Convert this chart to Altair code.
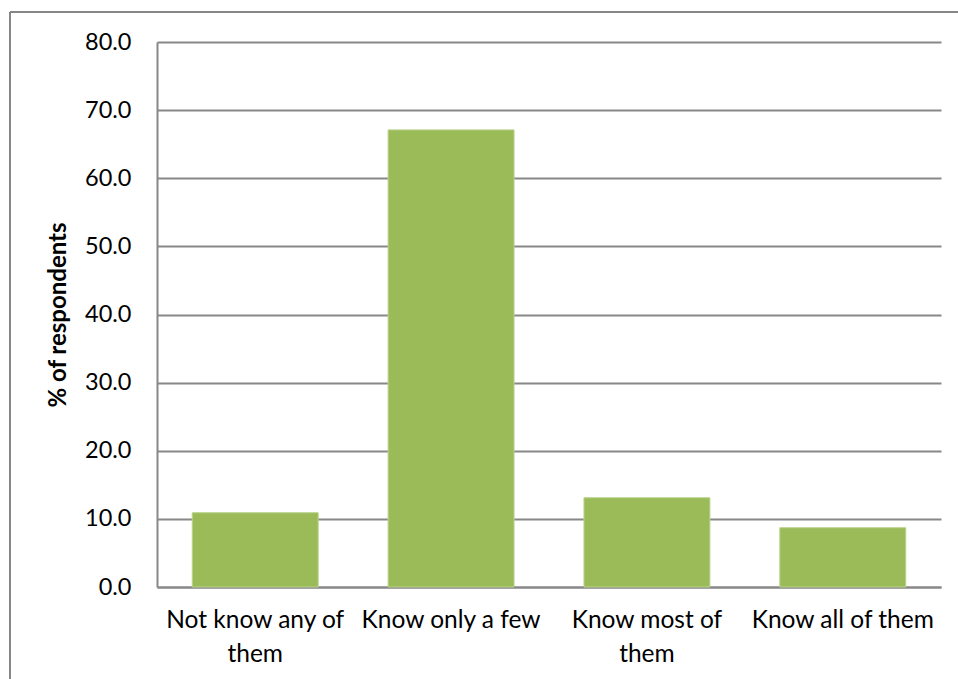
import altair as alt
import pandas as pd

# Survey answers and share of respondents (%)
categories = [
    "Not know any of\nthem",
    "Know only a few",
    "Know most of\nthem",
    "Know all of them",
]
percent = [10.9, 67.1, 13.1, 8.7]
y_ticks = [0, 10, 20, 30, 40, 50, 60, 70, 80]

df = pd.DataFrame({"answer": categories, "pct": percent})

FONT = "Lato"
GRID = "#888888"

bars = alt.Chart(df).mark_bar(color="#9BBB59", stroke="#B9D38A", strokeWidth=1).encode(
    x=alt.X(
        "answer:N",
        sort=categories,
        scale=alt.Scale(paddingInner=0.357, paddingOuter=0.18),
        axis=alt.Axis(
            title=None,
            labelAngle=0,
            labelExpr="split(datum.label, '\\n')",
            labelFont=FONT,
            labelFontSize=24.5,
            labelColor="#000000",
            labelPadding=21,
            labelLineHeight=34,
            labelBaseline="top",
            labelLimit=0,
            labelOverlap=False,
            ticks=False,
            domainColor=GRID,
            domainWidth=2,
        ),
    ),
    y=alt.Y(
        "pct:Q",
        scale=alt.Scale(domain=[0, 80], nice=False),
        axis=alt.Axis(
            title="% of respondents",
            titleFont=FONT,
            titleFontSize=24,
            titleFontWeight="bold",
            titleColor="#000000",
            titlePadding=14,
            values=y_ticks,
            format=".1f",
            labelFont=FONT,
            labelFontSize=23.5,
            labelColor="#000000",
            labelPadding=26,
            ticks=False,
            grid=True,
            gridColor=GRID,
            gridWidth=2,
            domainColor=GRID,
            domainWidth=2,
        ),
    ),
)

# Thin frame around the chart (left and top edges)
frame_top = alt.Chart(df).mark_rule(color="#7F7F7F", strokeWidth=1).encode(
    x=alt.value(-147), x2=alt.value(830), y=alt.value(-30)
)
frame_left = alt.Chart(df).mark_rule(color="#7F7F7F", strokeWidth=1).encode(
    x=alt.value(-147), y=alt.value(-30), y2=alt.value(700)
)

chart = (
    alt.layer(bars, frame_top, frame_left)
    .properties(
        width=784,
        height=545,
        autosize=alt.AutoSizeParams(type="none"),
        padding={"left": 157, "top": 42, "right": 17, "bottom": 92},
        background="#ffffff",
    )
    .configure_view(stroke=None)
)

chart.save("out.html", embed_options={"renderer": "svg", "actions": False})
